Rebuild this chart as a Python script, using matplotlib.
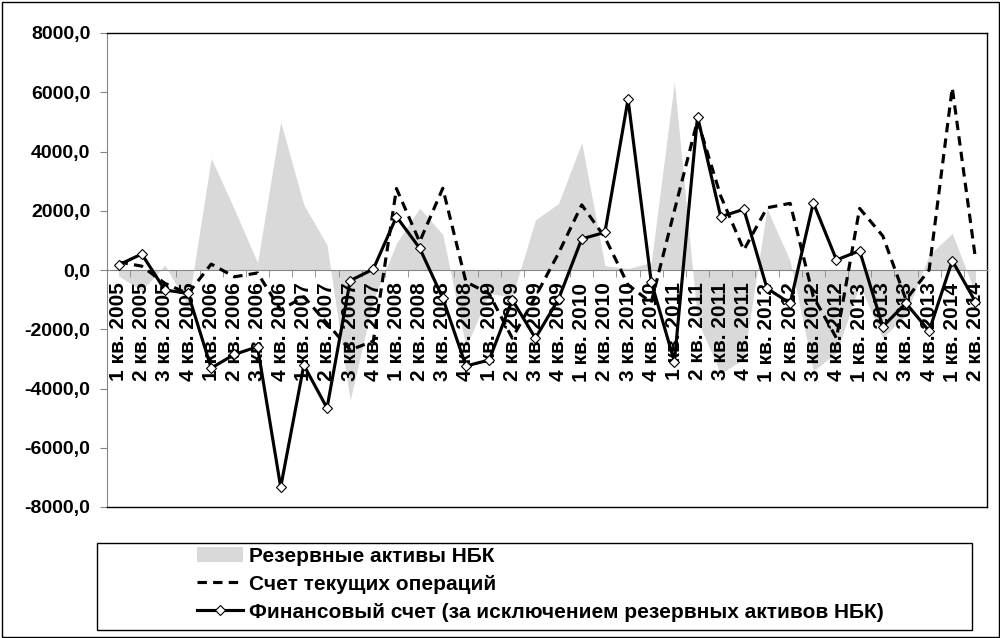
import matplotlib
matplotlib.use("Agg")
import matplotlib.pyplot as plt
from matplotlib.lines import Line2D
from matplotlib.patches import Patch, Rectangle
from matplotlib.ticker import FuncFormatter
import numpy as np

quarters = [
    "1 кв. 2005", "2 кв. 2005", "3 кв. 2005", "4 кв. 2005",
    "1 кв. 2006", "2 кв. 2006", "3 кв. 2006", "4 кв. 2006",
    "1 кв. 2007", "2 кв. 2007", "3 кв. 2007", "4 кв. 2007",
    "1 кв. 2008", "2 кв. 2008", "3 кв. 2008", "4 кв. 2008",
    "1 кв. 2009", "2 кв. 2009", "3 кв. 2009", "4 кв. 2009",
    "1 кв. 2010", "2 кв. 2010", "3 кв. 2010", "4 кв. 2010",
    "1 кв. 2011", "2 кв. 2011", "3 кв. 2011", "4 кв. 2011",
    "1 кв. 2012", "2 кв. 2012", "3 кв. 2012", "4 кв. 2012",
    "1 кв. 2013", "2 кв. 2013", "3 кв. 2013", "4 кв. 2013",
    "1 кв. 2014", "2 кв. 2014",
]

reserve_assets = [
    -200, -700, 170, -1200,
    3770, 2050, 250, 5000,
    2200, 850, -4400, -1000,
    900, 2090, 1200, -2600,
    -800, -900, 1690, 2250,
    4300, 150, 50, 250,
    6350, -1700, -3500, -3000,
    2080, 300, -3400, -2800,
    -500, -2300, -1500, 500,
    1240, -800,
]

current_account = [
    270, 130, -450, -800,
    200, -230, -100, -1350,
    -900, -1800, -2700, -2400,
    2750, 950, 2760, -400,
    -800, -2300, -900, 570,
    2200, 1100, -500, -1100,
    2000, 5050, 2500, 675,
    2100, 2250, -900, -2300,
    2080, 1150, -1000, 0,
    6150, 400,
]

financial_account = [
    170, 540, -675, -790,
    -3310, -2850, -2590, -7330,
    -3210, -4660, -360, 30,
    1800, 740, -950, -3240,
    -3040, -1010, -2300, -980,
    1050, 1270, 5760, -395,
    -3090, 5180, 1800, 2050,
    -620, -1125, 2270, 340,
    650, -1910, -1120, -2060,
    315, -1070,
]

series_names = [
    "Резервные активы НБК",
    "Счет текущих операций",
    "Финансовый счет (за исключением резервных активов НБК)",
]

plt.rcParams["font.family"] = ["Liberation Sans", "DejaVu Sans"]

W, H = 1000, 638
fig = plt.figure(figsize=(W / 100, H / 100), dpi=100)
ax = fig.add_axes([107 / W, 1 - 507 / H, 880 / W, 474 / H])

x = np.arange(len(quarters))
area_color = "#d9d9d9"
ax.fill_between(x, 0, reserve_assets, color=area_color, linewidth=0, zorder=1)
ax.plot(x, current_account, color="black", lw=2.25, dashes=(3, 2), zorder=3)
ax.plot(x, financial_account, color="black", lw=2.25, marker="D", ms=5.5,
        mfc="white", mec="black", mew=0.8, zorder=4)

ax.set_xlim(-0.5, len(quarters) - 0.5)
ax.set_ylim(-8000, 8000)
ax.set_yticks(np.arange(-8000, 8001, 2000))
ax.yaxis.set_major_formatter(FuncFormatter(lambda v, p: f"{v:.1f}".replace(".", ",")))

axis_grey = "#868686"
ax.spines["bottom"].set_position(("data", 0))
ax.spines["bottom"].set_color(axis_grey)
ax.spines["left"].set_color(axis_grey)
for side in ("top", "right"):
    ax.spines[side].set_color("black")
    ax.spines[side].set_linewidth(1.0)
ax.plot([0, 1], [0, 0], transform=ax.transAxes, color="black", lw=1.0,
        clip_on=False, zorder=5)

ax.set_xticks(x)
ax.set_xticklabels(quarters, rotation=90, fontsize=15, fontweight="bold")
ax.set_xticks(np.arange(-0.5, len(quarters), 1.0), minor=True)
ax.tick_params(axis="x", which="major", length=0, pad=9)
ax.tick_params(axis="x", which="minor", length=5, direction="out", color=axis_grey)
ax.tick_params(axis="y", length=5, direction="out", color=axis_grey,
               labelsize=14, pad=7)
for lbl in ax.get_yticklabels():
    lbl.set_fontweight("bold")

handles = [
    Patch(facecolor=area_color, edgecolor="none"),
    Line2D([], [], color="black", lw=2.25, dashes=(3, 2)),
    Line2D([], [], color="black", lw=2.25, marker="D", ms=5.5,
           mfc="white", mec="black", mew=0.8),
]
fig.legend(handles, series_names, loc="upper left",
           bbox_to_anchor=(197 / W, 1 - 547 / H), frameon=False,
           prop={"weight": "bold", "size": 15}, handlelength=2.2,
           handletextpad=0.3, labelspacing=0.42, borderpad=0, borderaxespad=0)

fig.patches.append(Rectangle((97 / W, 1 - 630 / H), 875 / W, 87 / H,
                             transform=fig.transFigure, fill=False,
                             edgecolor="black", lw=1.0))
fig.patches.append(Rectangle((1.5 / W, 1.5 / H), 997 / W, 635 / H,
                             transform=fig.transFigure, fill=False,
                             edgecolor="black", lw=1.0))

fig.savefig("out.png", dpi=100)
